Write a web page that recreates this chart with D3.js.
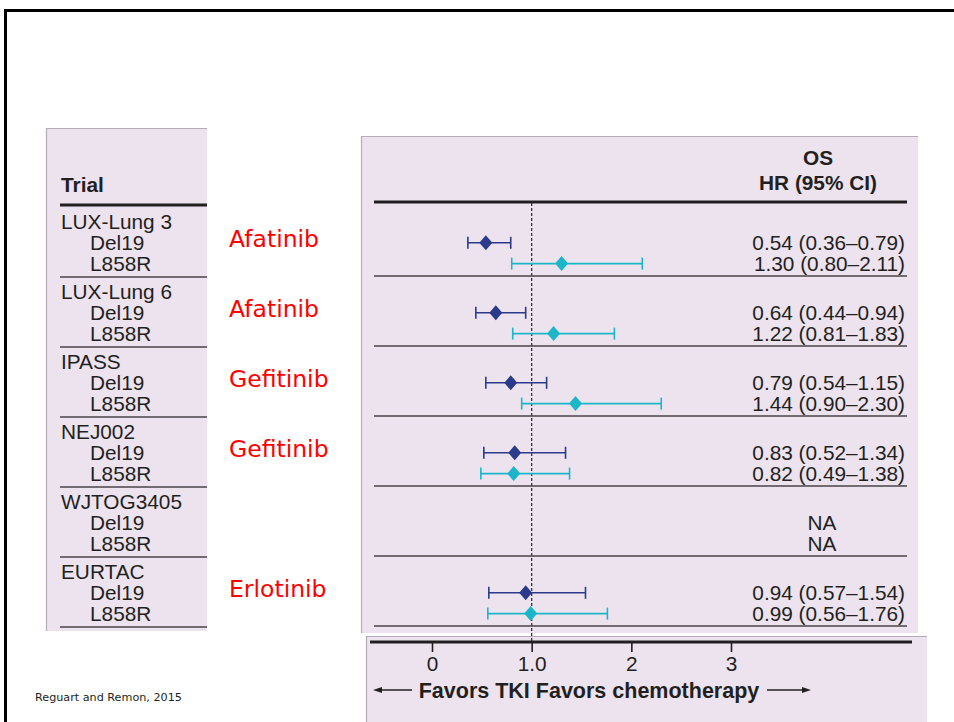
<!DOCTYPE html>
<html>
<head>
<meta charset="utf-8">
<script src="https://cdn.jsdelivr.net/npm/d3@7"></script>
<style>
  body { margin: 0; background: #fff; }
  svg { display: block; }
  text { font-family: "Liberation Sans", Arial, sans-serif; fill: #231f20; }
</style>
</head>
<body>
<div id="chart"></div>
<script>
// Trials and values (HR with 95% CI)
const trials = ["LUX-Lung 3", "LUX-Lung 6", "IPASS", "NEJ002", "WJTOG3405", "EURTAC"];
const drugs = ["Afatinib", "Afatinib", "Gefitinib", "Gefitinib", "", "Erlotinib"];
const subgroups = ["Del19", "L858R"];

const del19HR = [0.54, 0.64, 0.79, 0.83, null, 0.94];
const del19Lo = [0.36, 0.44, 0.54, 0.52, null, 0.57];
const del19Hi = [0.79, 0.94, 1.15, 1.34, null, 1.54];

const l858rHR = [1.30, 1.22, 1.44, 0.82, null, 0.99];
const l858rLo = [0.80, 0.81, 0.90, 0.49, null, 0.56];
const l858rHi = [2.11, 1.83, 2.30, 1.38, null, 1.76];

const tickValues = [0, 1, 2, 3];
const tickLabels = ["0", "1.0", "2", "3"];

const W = 954, H = 722;
const panelFill = "#ece3ef";
const colDel = "#2b3a8a";
const colL858 = "#1db6c8";
const fs = 20.8; // body text size

const svg = d3.select("#chart").append("svg")
    .attr("width", W)
    .attr("height", H);

// slide frame
svg.append("path")
    .attr("d", `M5.5,${H} V10.5 H${W}`)
    .attr("fill", "none")
    .attr("stroke", "#000")
    .attr("stroke-width", 3);

// panels
function panel(x, y, w, h) {
    svg.append("rect").attr("x", x).attr("y", y).attr("width", w).attr("height", h)
        .attr("fill", panelFill);
    svg.append("path")
        .attr("d", `M${x + 0.5},${y + h} V${y + 0.5} H${x + w}`)
        .attr("fill", "none").attr("stroke", "#b3abb8").attr("stroke-width", 1.2);
}
panel(46, 128, 161, 503);
panel(361, 136, 557, 497);
panel(366, 636, 561, H - 636);

// scales
const x = d3.scaleLinear().domain([0, 3]).range([432, 731]);
const yGroup = d3.scaleLinear().domain([0, trials.length - 1]).range([222, 572]);
const rowStep = 20.8;

const rows = trials.map((t, i) => ({
    i, trial: t, drug: drugs[i],
    items: [
        { sub: subgroups[0], hr: del19HR[i], lo: del19Lo[i], hi: del19Hi[i], color: colDel },
        { sub: subgroups[1], hr: l858rHR[i], lo: l858rLo[i], hi: l858rHi[i], color: colL858 }
    ]
}));

// headers
svg.append("text").attr("x", 61).attr("y", 185).attr("dy", "0.35em")
    .attr("font-size", fs).attr("font-weight", "bold").text("Trial");
svg.append("text").attr("x", 818).attr("y", 158).attr("dy", "0.35em")
    .attr("text-anchor", "middle").attr("font-size", fs).attr("font-weight", "bold").text("OS");
svg.append("text").attr("x", 818).attr("y", 183).attr("dy", "0.35em")
    .attr("text-anchor", "middle").attr("font-size", fs).attr("font-weight", "bold").text("HR (95% CI)");

svg.append("line").attr("x1", 60).attr("x2", 207).attr("y1", 205).attr("y2", 205)
    .attr("stroke", "#231f20").attr("stroke-width", 3);
svg.append("line").attr("x1", 374).attr("x2", 907).attr("y1", 202).attr("y2", 202)
    .attr("stroke", "#231f20").attr("stroke-width", 3);

// reference line at HR = 1
svg.append("line")
    .attr("x1", x(1)).attr("x2", x(1))
    .attr("y1", 203).attr("y2", 642)
    .attr("stroke", "#333").attr("stroke-width", 1.3)
    .attr("stroke-dasharray", "3,2");

const g = svg.selectAll(".group")
    .data(rows)
    .enter().append("g")
    .attr("class", "group")
    .attr("transform", d => `translate(0,${yGroup(d.i)})`);

// trial names
g.append("text").attr("x", 61).attr("dy", "0.35em").attr("font-size", fs)
    .text(d => d.trial);
g.selectAll(".sub")
    .data(d => d.items)
    .enter().append("text")
    .attr("class", "sub")
    .attr("x", 90)
    .attr("y", (d, k) => rowStep * (k + 1))
    .attr("dy", "0.35em")
    .attr("font-size", fs)
    .text(d => d.sub);

// separators
g.append("line").attr("x1", 60).attr("x2", 207).attr("y1", 55).attr("y2", 55)
    .attr("stroke", "#4a4548").attr("stroke-width", 1.6);
g.append("line").attr("x1", 374).attr("x2", 907).attr("y1", 54).attr("y2", 54)
    .attr("stroke", "#4a4548").attr("stroke-width", 1.6);

// drug labels
g.append("text")
    .attr("x", 229).attr("y", 17).attr("dy", "0.35em")
    .style("font-family", "'DejaVu Sans', Verdana, sans-serif")
    .style("fill", "#ff0000")
    .attr("font-size", 23.5)
    .text(d => d.drug);

// estimates
const est = g.selectAll(".est")
    .data(d => d.items)
    .enter().append("g")
    .attr("class", "est")
    .attr("transform", (d, k) => `translate(0,${rowStep * (k + 1)})`);

const withData = est.filter(d => d.hr != null);

withData.append("line")
    .attr("x1", d => x(d.lo)).attr("x2", d => x(d.hi))
    .attr("stroke", d => d.color).attr("stroke-width", 1.6);
withData.append("line")
    .attr("x1", d => x(d.lo)).attr("x2", d => x(d.lo))
    .attr("y1", -6).attr("y2", 6)
    .attr("stroke", d => d.color).attr("stroke-width", 1.6);
withData.append("line")
    .attr("x1", d => x(d.hi)).attr("x2", d => x(d.hi))
    .attr("y1", -6).attr("y2", 6)
    .attr("stroke", d => d.color).attr("stroke-width", 1.6);
withData.append("path")
    .attr("d", d => `M${x(d.hr)},-7.5 L${x(d.hr) + 6.5},0 L${x(d.hr)},7.5 L${x(d.hr) - 6.5},0 Z`)
    .attr("fill", d => d.color);

est.append("text")
    .attr("x", d => d.hr != null ? 905 : 822)
    .attr("dy", "0.35em")
    .attr("text-anchor", d => d.hr != null ? "end" : "middle")
    .attr("font-size", fs)
    .text(d => d.hr != null
        ? `${d.hr.toFixed(2)} (${d.lo.toFixed(2)}–${d.hi.toFixed(2)})`
        : "NA");

// bottom axis
svg.append("line").attr("x1", 370).attr("x2", 912).attr("y1", 642).attr("y2", 642)
    .attr("stroke", "#231f20").attr("stroke-width", 3);

const axis = d3.axisBottom(x)
    .tickValues(tickValues)
    .tickFormat((d, i) => tickLabels[i])
    .tickSizeInner(10)
    .tickSizeOuter(0)
    .tickPadding(4);

const ax = svg.append("g")
    .attr("transform", "translate(0,642)")
    .call(axis);
ax.select(".domain").remove();
ax.selectAll(".tick line").attr("stroke", "#231f20").attr("stroke-width", 1.6);
ax.selectAll(".tick text")
    .attr("font-size", fs)
    .attr("font-family", "Liberation Sans, Arial, sans-serif")
    .style("fill", "#231f20");

svg.append("text")
    .attr("x", 589).attr("y", 690).attr("dy", "0.35em")
    .attr("text-anchor", "middle")
    .attr("font-size", 21.5).attr("font-weight", "bold")
    .text("Favors TKI  Favors chemotherapy");

// arrows
function arrow(x1, x2, y) {
    const dir = Math.sign(x2 - x1);
    svg.append("line").attr("x1", x1).attr("x2", x2 - dir * 6).attr("y1", y).attr("y2", y)
        .attr("stroke", "#231f20").attr("stroke-width", 1.5);
    svg.append("path")
        .attr("d", `M${x2},${y} L${x2 - dir * 9},${y - 3} L${x2 - dir * 9},${y + 3} Z`)
        .attr("fill", "#231f20");
}
arrow(412, 373, 690);
arrow(767, 811, 690);

// source
svg.append("text")
    .attr("x", 35).attr("y", 697).attr("dy", "0.35em")
    .style("font-family", "'DejaVu Sans', Verdana, sans-serif")
    .attr("font-size", 11.2)
    .text("Reguart and Remon, 2015");
</script>
</body>
</html>
